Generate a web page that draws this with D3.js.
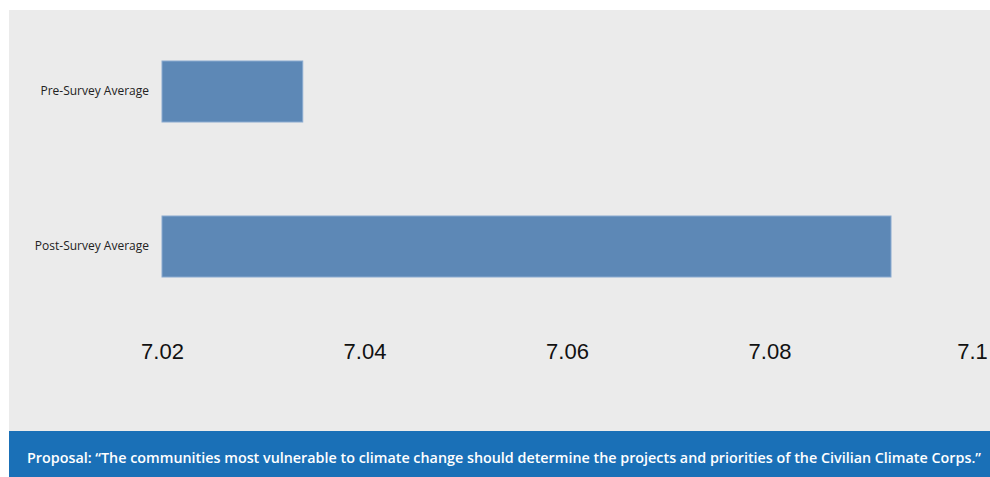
<!DOCTYPE html>
<html>
<head>
<meta charset="utf-8">
<script src="https://cdn.jsdelivr.net/npm/d3@7"></script>
<style>
  body { margin: 0; background: #ffffff; }
  svg { display: block; }
</style>
</head>
<body>
<div id="chart"></div>
<script>
// chart data
var categories = ["Pre-Survey Average", "Post-Survey Average"];
var values = [7.0339, 7.092];
var tickValues = [7.02, 7.04, 7.06, 7.08, 7.1];
var footerText = "Proposal: \u201cThe communities most vulnerable to climate change should determine the projects and priorities of the Civilian Climate Corps.\u201d";

var svgWidth = 990;
var svgHeight = 477;

var svg = d3.select("#chart")
  .append("svg")
  .attr("width", svgWidth)
  .attr("height", svgHeight);

// gray panel
svg.append("rect")
  .attr("x", 9)
  .attr("y", 10)
  .attr("width", 981)
  .attr("height", 421)
  .attr("fill", "#ebebeb");

// scales
var xScale = d3.scaleLinear()
  .domain([7.02, 7.1])
  .range([162, 972]);

var yScale = d3.scaleBand()
  .domain(categories)
  .range([14, 324])
  .paddingInner(94 / 155)
  .paddingOuter(47 / 155);

// bars
svg.append("g")
  .selectAll("rect")
  .data(categories)
  .enter()
  .append("rect")
  .attr("x", xScale(7.02))
  .attr("y", d => yScale(d))
  .attr("width", (d, i) => xScale(values[i]) - xScale(7.02))
  .attr("height", yScale.bandwidth())
  .attr("fill", "#5d88b6")
  .attr("stroke", "#8aaad0")
  .attr("stroke-width", 1);

// category labels
var yAxis = d3.axisLeft(yScale).tickSize(0).tickPadding(13);
var yAxisG = svg.append("g")
  .attr("transform", "translate(162,0)")
  .call(yAxis);
yAxisG.select(".domain").remove();
yAxisG.selectAll("text")
  .attr("font-family", "'Open Sans', 'Noto Sans', sans-serif")
  .attr("font-size", 12)
  .attr("fill", "#222");

// x axis tick labels
var xAxis = d3.axisBottom(xScale)
  .tickValues(tickValues)
  .tickFormat(d3.format("~g"))
  .tickSize(0);
var xAxisG = svg.append("g")
  .attr("transform", "translate(0,340)")
  .call(xAxis);
xAxisG.select(".domain").remove();
xAxisG.selectAll("text")
  .attr("font-family", "'Liberation Sans', Arial, sans-serif")
  .attr("font-size", 22)
  .attr("fill", "#111");

// footer band
svg.append("rect")
  .attr("x", 9)
  .attr("y", 431)
  .attr("width", 981)
  .attr("height", 46)
  .attr("fill", "#1a70b7");

svg.append("text")
  .attr("x", 27)
  .attr("y", 463)
  .attr("font-family", "'Open Sans', 'Noto Sans', sans-serif")
  .attr("font-weight", 600)
  .attr("font-size", 14)
  .attr("textLength", 954)
  .attr("lengthAdjust", "spacingAndGlyphs")
  .attr("fill", "#ffffff")
  .text(footerText);
</script>
</body>
</html>
